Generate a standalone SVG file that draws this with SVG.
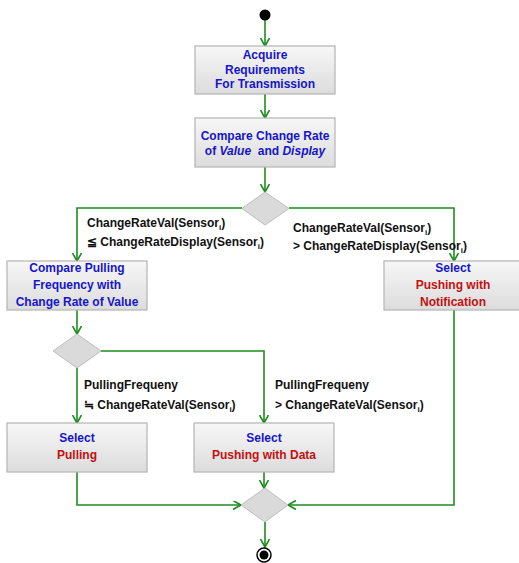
<svg xmlns="http://www.w3.org/2000/svg" width="519" height="563" viewBox="0 0 519 563">
<defs>
<linearGradient id="g" x1="0" y1="0" x2="0" y2="1">
<stop offset="0" stop-color="#f7f7f7"/>
<stop offset="1" stop-color="#dcdcdc"/>
</linearGradient>
<marker id="a" markerUnits="userSpaceOnUse" markerWidth="10" markerHeight="10" refX="8" refY="4.5" orient="auto" viewBox="0 0 10 10">
<path d="M0,0 L8,4.5 L0,9" fill="none" stroke="#1e8c1e" stroke-width="1.6"/>
</marker>
</defs>
<style>
.box{fill:url(#g);stroke:#b4b4b4;stroke-width:1.2}
.dia{fill:#dadada;stroke:#bdbdbd;stroke-width:1}
.c{fill:none;stroke:#1e8c1e;stroke-width:1.6;marker-end:url(#a)}
text{font-family:"Liberation Sans",Arial,sans-serif;font-weight:bold;font-size:12px}
.t{text-anchor:middle}
.b{fill:#1515cc}
.r{fill:#c41010}
.k{fill:#111}
.s{font-size:8px}
</style>
<g id="connectors">
<path class="c" d="M265,20 V46"/>
<path class="c" d="M265,94 V118"/>
<path class="c" d="M265,167 V192"/>
<path class="c" d="M242,208 H77 V261"/>
<path class="c" d="M289,208 H454 V261"/>
<path class="c" d="M77,310 V334"/>
<path class="c" d="M101,351 H264 V423"/>
<path class="c" d="M77,368 V423"/>
<path class="c" d="M77,472 V505 H241"/>
<path class="c" d="M264,472 V488"/>
<path class="c" d="M454,310 V505 H288"/>
<path class="c" d="M265,522 V547"/>
</g>
<g id="start"><circle cx="265" cy="15" r="5.5" fill="#000"/></g>
<g id="acquire">
<rect class="box" x="195" y="46" width="140" height="48"/>
<text class="t b" x="265" y="59">Acquire</text>
<text class="t b" x="265" y="74">Requirements</text>
<text class="t b" x="265" y="88">For Transmission</text>
</g>
<g id="compare-change">
<rect class="box" x="195" y="118" width="140" height="49"/>
<text class="t b" x="265" y="140">Compare Change Rate</text>
<text class="t b" x="265" y="155" xml:space="preserve">of <tspan font-style="italic">Value</tspan>  and <tspan font-style="italic">Display</tspan></text>
</g>
<g id="decision1"><polygon class="dia" points="265,192 289,208.5 265,225 242,208.5"/></g>
<g id="label-le">
<text class="k" x="87" y="227">ChangeRateVal(Sensor<tspan class="s" dy="3">i</tspan><tspan dy="-3">)</tspan></text>
<text class="k" x="87" y="246">≦ ChangeRateDisplay(Sensor<tspan class="s" dy="3">i</tspan><tspan dy="-3">)</tspan></text>
</g>
<g id="label-gt">
<text class="k" x="293" y="232">ChangeRateVal(Sensor<tspan class="s" dy="3">i</tspan><tspan dy="-3">)</tspan></text>
<text class="k" x="293" y="250">&gt; ChangeRateDisplay(Sensor<tspan class="s" dy="3">i</tspan><tspan dy="-3">)</tspan></text>
</g>
<g id="compare-pulling">
<rect class="box" x="7" y="261" width="140" height="49"/>
<text class="t b" x="77" y="272">Compare Pulling</text>
<text class="t b" x="77" y="289">Frequency with</text>
<text class="t b" x="77" y="306">Change Rate of Value</text>
</g>
<g id="select-notification">
<rect class="box" x="384" y="261" width="140" height="49"/>
<text class="t b" x="453" y="272">Select</text>
<text class="t r" x="453" y="289">Pushing with</text>
<text class="t r" x="453" y="306">Notification</text>
</g>
<g id="decision2"><polygon class="dia" points="77,334 101,351 77,368 53,351"/></g>
<g id="label-approx">
<text class="k" x="84" y="389">PullingFrequeny</text>
<text class="k" x="84" y="409">≒ ChangeRateVal(Sensor<tspan class="s" dy="3">i</tspan><tspan dy="-3">)</tspan></text>
</g>
<g id="label-gt2">
<text class="k" x="275" y="389">PullingFrequeny</text>
<text class="k" x="275" y="409">&gt; ChangeRateVal(Sensor<tspan class="s" dy="3">i</tspan><tspan dy="-3">)</tspan></text>
</g>
<g id="select-pulling">
<rect class="box" x="7" y="423" width="140" height="49"/>
<text class="t b" x="77" y="442">Select</text>
<text class="t r" x="77" y="459">Pulling</text>
</g>
<g id="select-data">
<rect class="box" x="194" y="423" width="140" height="49"/>
<text class="t b" x="264" y="442">Select</text>
<text class="t r" x="264" y="459">Pushing with Data</text>
</g>
<g id="merge"><polygon class="dia" points="265,488 288,505 265,522 241,505"/></g>
<g id="end">
<circle cx="264" cy="555" r="7" fill="#fff" stroke="#000" stroke-width="1.5"/>
<circle cx="264" cy="555" r="4.5" fill="#000"/>
</g>
</svg>
